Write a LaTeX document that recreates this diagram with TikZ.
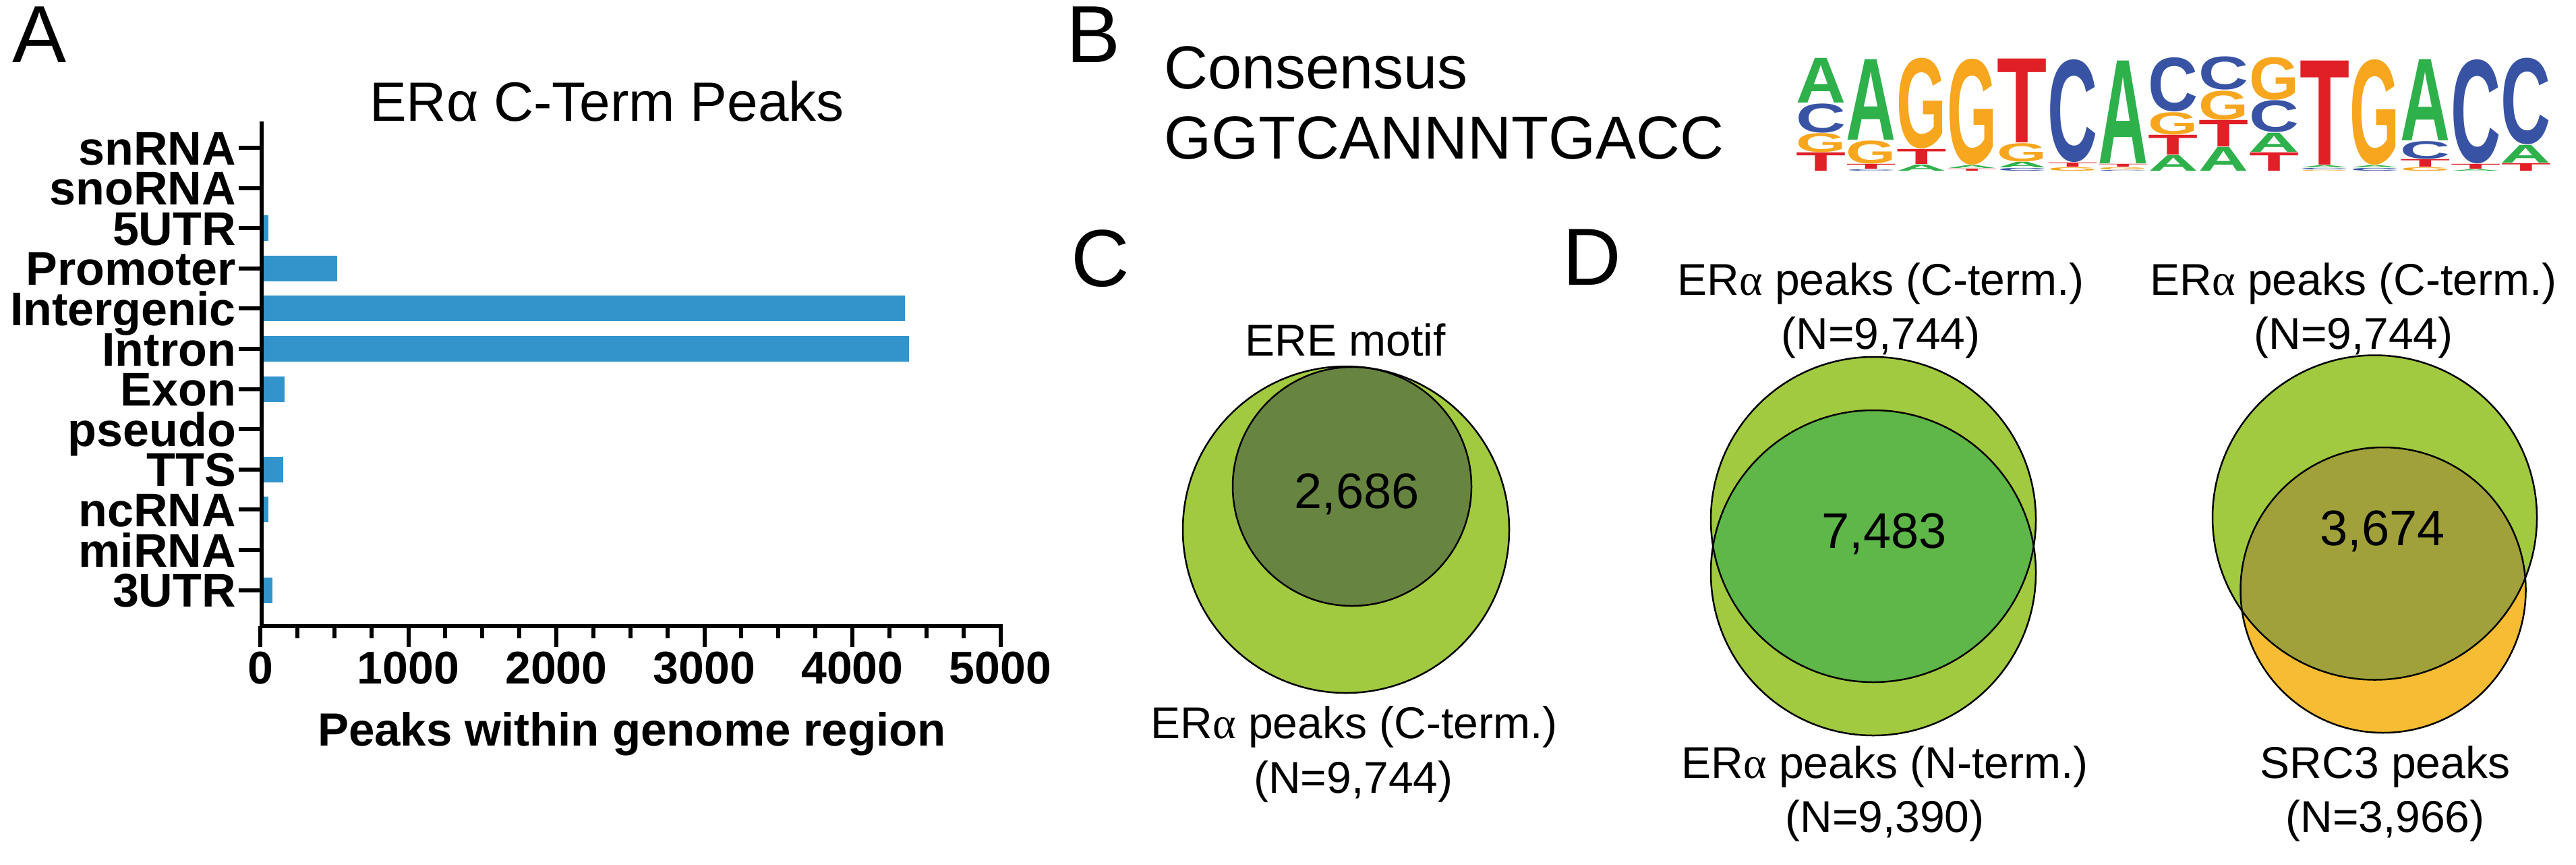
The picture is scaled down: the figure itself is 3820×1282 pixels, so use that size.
\documentclass[tikz,border=0pt]{standalone}
\usepackage{fontspec}
\setmainfont{Liberation Sans}
\newfontfamily\serifalpha{Liberation Serif}
\usepackage{graphicx}
\definecolor{barblue}{RGB}{51,148,204}
\definecolor{vlight}{RGB}{162,202,64}
\definecolor{vdark}{RGB}{103,133,65}
\definecolor{vlens}{RGB}{94,183,72}
\definecolor{vorange}{RGB}{246,189,52}
\definecolor{volive}{RGB}{161,161,59}
\definecolor{logoA}{RGB}{46,177,75}
\definecolor{logoC}{RGB}{57,83,164}
\definecolor{logoG}{RGB}{247,166,30}
\definecolor{logoT}{RGB}{224,31,38}
\newcommand\ERa{ER{\serifalpha α}}
\newcommand\logoL[4]{%
  \pgfmathsetmacro\lgx{2663+(#1-1)*74.7}%
  \pgfmathsetmacro\lgy{254-#2-0.4}%
  \pgfmathsetmacro\lgh{#3-#2-0.8}%
  \node[logoletter, text=logo#4] (L#1#4) at (\lgx,\lgy) {\resizebox*{74pt}{\lgh pt}{\bfseries #4}};%
}
\tikzset{
  panel/.style={inner sep=0, anchor=base west, font=\fontsize{120}{140}\selectfont},
  cat/.style={inner sep=0, anchor=base east, font=\fontsize{70}{84}\selectfont\bfseries},
  ticklab/.style={inner sep=0, anchor=base, font=\fontsize{68}{80}\selectfont\bfseries},
  axtitle/.style={inner sep=0, anchor=base, font=\fontsize{69}{80}\selectfont\bfseries},
  charttitle/.style={inner sep=0, anchor=base, font=\fontsize{82}{96}\selectfont},
  cons/.style={inner sep=0, anchor=base west, font=\fontsize{90}{108}\selectfont},
  venn/.style={inner sep=0, anchor=base, font=\fontsize{66}{80}\selectfont},
  num/.style={inner sep=0, anchor=base, font=\fontsize{74}{90}\selectfont},
  bar/.style={fill=barblue},
  axisline/.style={line width=6pt},
  circ/.style={draw=black, line width=2.5pt},
  logoletter/.style={inner sep=0, outer sep=0, anchor=south west},
}
\begin{document}
\begin{tikzpicture}[x=1pt,y=-1pt]
\useasboundingbox (0,0) rectangle (3820,1282);
\fill[white] (0,0) rectangle (3820,1282);

% ---------------- Panel A ----------------
\node[panel] (labA) at (18,92) {A};
\node[charttitle] (titleA) at (900,179) {ERα C-Term Peaks};
% bars
\foreach \i/\v in {3/55, 4/518, 5/4356, 6/4384, 7/164, 9/155, 10/55, 12/82}{
  \pgfmathsetmacro\yc{219+59.6*(\i-1)}
  \pgfmathsetmacro\xe{386+\v*0.2195}
  \fill[bar] (390,\yc-19) rectangle (\xe,\yc+19);
}
% axes
\draw[axisline] (387.5,180) -- (387.5,931);
\draw[axisline] (384.5,928) -- (1486.5,928);
\foreach \i in {1,...,12}{
  \pgfmathsetmacro\yc{219+59.6*(\i-1)}
  \draw[axisline] (354,\yc) -- (388,\yc);
}
\foreach \k in {0,...,5}{
  \pgfmathsetmacro\xk{386+\k*219.5}
  \draw[axisline] (\xk,928) -- (\xk,959);
}
\foreach \j in {1,2,3,5,6,7,9,10,11,13,14,15,17,18,19}{
  \pgfmathsetmacro\xj{386+\j*54.875}
  \draw[axisline] (\xj,928) -- (\xj,946);
}
% category labels
\node[cat] (c1) at (350,244) {snRNA};
\node[cat] (c2) at (350,303.6) {snoRNA};
\node[cat] (c3) at (350,363.2) {5UTR};
\node[cat] (c4) at (350,422.8) {Promoter};
\node[cat] (c5) at (350,482.4) {Intergenic};
\node[cat] (c6) at (350,542) {Intron};
\node[cat] (c7) at (350,601.6) {Exon};
\node[cat] (c8) at (350,661.2) {pseudo};
\node[cat] (c9) at (350,720.8) {TTS};
\node[cat] (c10) at (350,780.4) {ncRNA};
\node[cat] (c11) at (350,840) {miRNA};
\node[cat] (c12) at (350,899.6) {3UTR};
% tick labels
\node[ticklab] (t0) at (386,1013) {0};
\node[ticklab] (t1) at (605.5,1013) {1000};
\node[ticklab] (t2) at (825,1013) {2000};
\node[ticklab] (t3) at (1044.5,1013) {3000};
\node[ticklab] (t4) at (1264,1013) {4000};
\node[ticklab] (t5) at (1483.5,1013) {5000};
\node[axtitle] (xtitle) at (937,1105) {Peaks within genome region};

% ---------------- Panel B ----------------
\node[panel] (labB) at (1581,92) {B};
\node[cons] (cons1) at (1726,131) {Consensus};
\node[cons] (cons2) at (1726,235) {GGTCANNNTGACC};
% sequence logo
\logoL{1}{0}{28}{T}\logoL{1}{28}{57}{G}\logoL{1}{57}{101}{C}\logoL{1}{101}{168}{A}
\logoL{2}{0}{3}{C}\logoL{2}{3}{11}{T}\logoL{2}{11}{46}{G}\logoL{2}{46}{166}{A}
\logoL{3}{0}{10}{A}\logoL{3}{10}{33}{T}\logoL{3}{33}{168}{G}
\logoL{4}{0}{4}{T}\logoL{4}{4}{9}{A}\logoL{4}{9}{167}{G}
\logoL{5}{0}{5}{C}\logoL{5}{5}{14}{A}\logoL{5}{14}{42}{G}\logoL{5}{42}{167}{T}
\logoL{6}{0}{6}{G}\logoL{6}{6}{13}{T}\logoL{6}{13}{166}{C}
\logoL{7}{0}{2}{C}\logoL{7}{2}{6}{G}\logoL{7}{6}{11}{T}\logoL{7}{11}{164}{A}
\logoL{8}{0}{24}{A}\logoL{8}{24}{54}{T}\logoL{8}{54}{88}{G}\logoL{8}{88}{169}{C}
\logoL{9}{0}{36}{A}\logoL{9}{36}{76}{T}\logoL{9}{76}{120}{G}\logoL{9}{120}{170}{C}
\logoL{10}{0}{28}{T}\logoL{10}{28}{57}{A}\logoL{10}{57}{105}{C}\logoL{10}{105}{169}{G}
\logoL{11}{0}{2}{G}\logoL{11}{2}{5}{C}\logoL{11}{5}{9}{A}\logoL{11}{9}{164}{T}
\logoL{12}{0}{5}{C}\logoL{12}{5}{9}{A}\logoL{12}{9}{166}{G}
\logoL{13}{0}{6}{G}\logoL{13}{6}{18}{T}\logoL{13}{18}{45}{C}\logoL{13}{45}{166}{A}
\logoL{14}{0}{3}{A}\logoL{14}{3}{11}{T}\logoL{14}{11}{166}{C}
\logoL{15}{0}{12}{T}\logoL{15}{12}{39}{A}\logoL{15}{39}{168}{C}

% ---------------- Panel C ----------------
\node[panel] (labC) at (1588,424) {C};
\filldraw[fill=vlight, circ] (1996,785) circle[radius=242pt];
\filldraw[fill=vdark, circ] (2005,721) circle[radius=177pt];
\node[venn] (ere) at (1995,527) {ERE motif};
\node[num] (n2686) at (2012,753) {2,686};
\node[venn] (cl1) at (2008,1094) {\ERa\ peaks (C-term.)};
\node[venn] (cl2) at (2007,1175) {(N=9,744)};

% ---------------- Panel D ----------------
\node[panel] (labD) at (2317,422) {D};
% left Venn
\fill[vlight] (2778,770) circle[radius=241pt];
\fill[vlight] (2778,849) circle[radius=241pt];
\begin{scope}
  \clip (2778,770) circle[radius=241pt];
  \fill[vlens] (2778,849) circle[radius=241pt];
\end{scope}
\draw[circ] (2778,770) circle[radius=241pt];
\draw[circ] (2778,849) circle[radius=241pt];
% right Venn
\fill[vlight] (3521.5,767) circle[radius=240.5pt];
\fill[vorange] (3534,874.5) circle[radius=211.5pt];
\begin{scope}
  \clip (3521.5,767) circle[radius=240.5pt];
  \fill[volive] (3534,874.5) circle[radius=211.5pt];
\end{scope}
\draw[circ] (3521.5,767) circle[radius=240.5pt];
\draw[circ] (3534,874.5) circle[radius=211.5pt];
% labels
\node[venn] (dl1) at (2789,437) {\ERa\ peaks (C-term.)};
\node[venn] (dl2) at (2789,517) {(N=9,744)};
\node[venn] (dr1) at (3490,437) {\ERa\ peaks (C-term.)};
\node[venn] (dr2) at (3490,517) {(N=9,744)};
\node[venn] (dl3) at (2795,1153) {\ERa\ peaks (N-term.)};
\node[venn] (dl4) at (2795,1233) {(N=9,390)};
\node[venn] (dr3) at (3537,1153) {SRC3 peaks};
\node[venn] (dr4) at (3537,1233) {(N=3,966)};
\node[num] (n7483) at (2794,812) {7,483};
\node[num] (n3674) at (3533,808) {3,674};
\end{tikzpicture}
\end{document}
